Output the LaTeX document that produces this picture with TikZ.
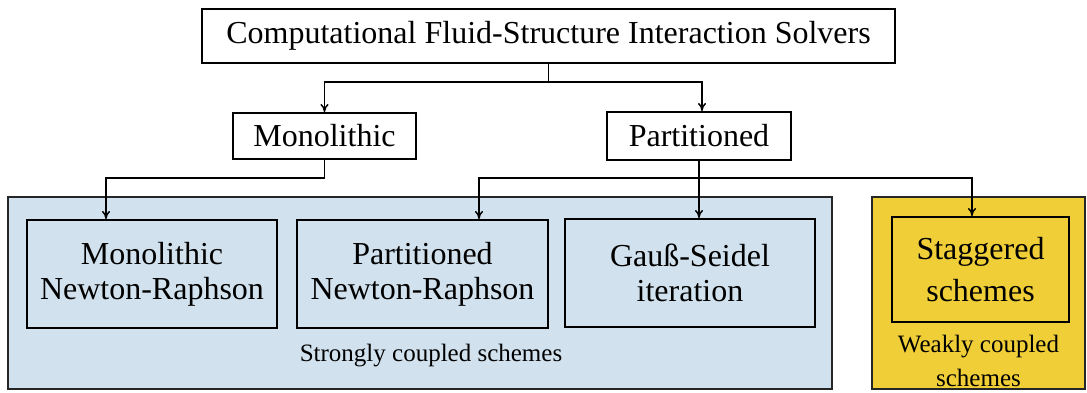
\documentclass[tikz,border=0pt]{standalone}
\usepackage{fontspec}
\setmainfont{Liberation Serif}
\newfontfamily\timesfont{Liberation Serif}
\usetikzlibrary{arrows.meta}
\definecolor{groupblue}{RGB}{209,225,237}
\definecolor{groupyellow}{RGB}{240,206,56}
\tikzset{
  box/.style={draw=black, line width=2pt, inner sep=0pt, align=center,
    font=\timesfont\fontsize{32}{35}\selectfont},
  group/.style={draw=black!85, line width=2.2pt},
  conn/.style={line width=1.5pt},
  arr/.style={conn, -{To[length=8pt,width=8pt]}},
  small/.style={font=\timesfont\fontsize{25}{34}\selectfont, align=center, inner sep=0pt}
}
\begin{document}
\begin{tikzpicture}[x=1pt,y=-1pt]
\useasboundingbox (0,0) rectangle (1087,392);
% groups
\path[group, fill=groupblue] (8,197) rectangle (832,389);
\path[group, fill=groupyellow] (872,197) rectangle (1085,389);
% nodes
\node[box, minimum width=693pt, minimum height=54pt] (top) at (548.5,36) {Computational Fluid-Structure Interaction Solvers};
\node[box, fill=white, minimum width=183pt, minimum height=46pt] (mono) at (324.5,136) {Monolithic};
\node[box, fill=white, minimum width=184pt, minimum height=48pt] (part) at (699,136) {Partitioned};
\node[box, minimum width=250pt, minimum height=108pt] (mnr) at (152,274) {Monolithic\\Newton-Raphson};
\node[box, minimum width=251pt, minimum height=108pt] (pnr) at (422.5,274) {Partitioned\\Newton-Raphson};
\node[box, minimum width=250pt, minimum height=108pt] (gs) at (690,273) {Gauß-Seidel\\iteration};
\node[box, font=\timesfont\fontsize{32}{42}\selectfont, minimum width=177pt, minimum height=105pt] (stag) at (980.5,269.5) {Staggered\\schemes};
\node[small] (strong) at (431,356) {Strongly coupled schemes};
\node[small] (weak) at (978.5,361) {Weakly coupled\\schemes};
% connectors
\path (top.south) ++(0,18) coordinate (tj);
\draw[conn] (top.south) -- (tj);
\draw[arr] (tj) -| (mono.north);
\draw[arr] (tj) -| ([xshift=3pt]part.north);
\path (mono.south) ++(0,18) coordinate (mj);
\draw[arr] (mono.south) -- (mj) -| ([xshift=80pt]mnr.north west);
\path (part.south) ++(0,17) coordinate (pj);
\draw[arr] (part.south) -- (part.south |- gs.north);
\draw[arr] (pj) -| ([xshift=183pt]pnr.north west);
\draw[arr] (pj) -| ([xshift=-8.5pt]stag.north);
\end{tikzpicture}
\end{document}
